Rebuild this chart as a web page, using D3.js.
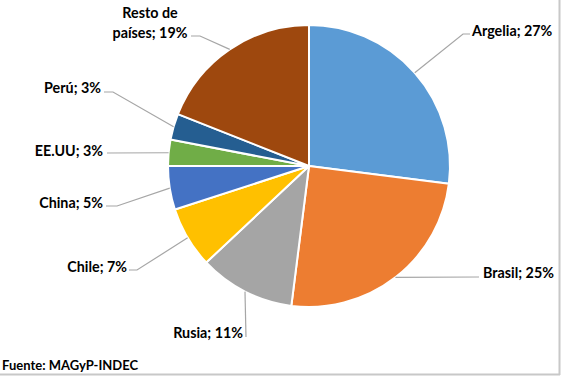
<!DOCTYPE html>
<html>
<head>
<meta charset="utf-8">
<script src="https://d3js.org/d3.v7.min.js"></script>
<style>
  body { margin: 0; background: #fff; }
  svg { display: block; }
  .lbl { font-family: Lato, "Open Sans", sans-serif; font-weight: bold; font-size: 14.3px; fill: #000; }
  .leader { fill: none; stroke: #a6a6a6; stroke-width: 1.2; }
</style>
</head>
<body>
<div id="chart"></div>
<script>
// data
var countries = ["Argelia", "Brasil", "Rusia", "Chile", "China", "EE.UU", "Perú", "Resto de países"];
var shares = [27, 25, 11, 7, 5, 3, 3, 19];
var colors = ["#5b9bd5", "#ed7d31", "#a5a5a5", "#ffc000", "#4472c4", "#70ad47", "#255e91", "#9e480e"];
var source = "Fuente: MAGyP-INDEC";

var width = 561, height = 376;
var cx = 309, cy = 166, r = 141;

// label layout: text anchor point, elbow, end of leader
var labelLayout = [
  { x: 472, y: 36, anchor: "start", elbow: [463, 34], end: [470, 34] },
  { x: 483, y: 278, anchor: "start", elbow: null, end: [479, 277] },
  { x: 243, y: 338, anchor: "end", elbow: null, end: [246, 337] },
  { x: 127, y: 272, anchor: "end", elbow: [137, 270], end: [129, 270] },
  { x: 103, y: 208, anchor: "end", elbow: [117, 206], end: [106, 206] },
  { x: 103, y: 156, anchor: "end", elbow: null, end: [107, 153] },
  { x: 101, y: 93, anchor: "end", elbow: [113, 92], end: [104, 92] },
  { x: 150, y: 38, anchor: "middle", elbow: [200, 36], end: [191, 36], lines: ["Resto de", "países; 19%"] }
];

var svg = d3.select("#chart").append("svg")
  .attr("width", width)
  .attr("height", height);

// frame edges
svg.append("line").attr("x1", 559.5).attr("x2", 559.5).attr("y1", 0).attr("y2", 375)
  .attr("stroke", "#c8c8c8").attr("stroke-width", 2);
svg.append("line").attr("x1", 0).attr("x2", 560).attr("y1", 374.5).attr("y2", 374.5)
  .attr("stroke", "#c8c8c8").attr("stroke-width", 2);

var pie = d3.pie().sort(null).value(function(d) { return d; });
var arcs = pie(shares);
var arc = d3.arc().innerRadius(0).outerRadius(r);

var g = svg.append("g").attr("transform", "translate(" + cx + "," + cy + ")");

g.selectAll("path.slice")
  .data(arcs)
  .enter().append("path")
  .attr("class", "slice")
  .attr("d", arc)
  .attr("fill", function(d, i) { return colors[i]; })
  .attr("stroke", "#fff")
  .attr("stroke-width", 2)
  .attr("stroke-linejoin", "round");

// leader lines start on the outer edge at mid angle
arcs.forEach(function(d, i) {
  var a = (d.startAngle + d.endAngle) / 2;
  var sx = cx + r * Math.sin(a), sy = cy - r * Math.cos(a);
  var L = labelLayout[i];
  var pts = [[sx, sy]];
  if (L.elbow) pts.push(L.elbow);
  pts.push(L.end);
  svg.append("path")
    .attr("class", "leader")
    .attr("d", d3.line()(pts));

  var t = svg.append("text")
    .attr("class", "lbl")
    .attr("text-anchor", L.anchor);
  if (L.lines) {
    t.append("tspan").attr("x", L.x).attr("y", L.y - 20).text(L.lines[0]);
    t.append("tspan").attr("x", L.x).attr("y", L.y).text(L.lines[1]);
  } else {
    t.attr("x", L.x).attr("y", L.y).text(countries[i] + "; " + shares[i] + "%");
  }
});

svg.append("text")
  .attr("class", "lbl")
  .attr("x", 2)
  .attr("y", 370)
  .style("font-size", "13px")
  .text(source);
</script>
</body>
</html>
